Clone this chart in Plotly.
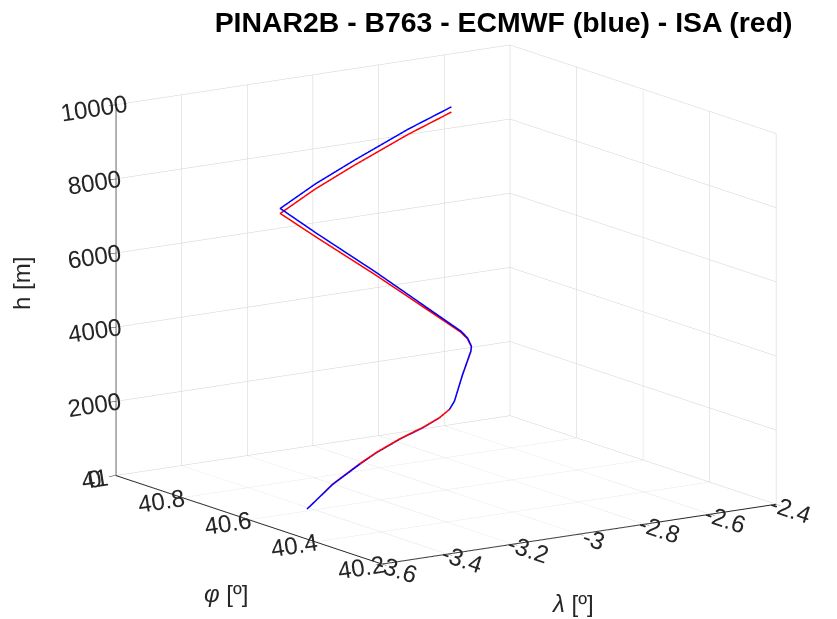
import plotly.graph_objects as go

# Trajectory (longitude λ [º], latitude φ [º], height h [m])
lon = [-3.554, -3.5156, -3.4741, -3.436, -3.374, -3.3058, -3.2524, -3.2138, -3.1862,
       -3.1014, -3.0192, -3.0029, -2.9893, -2.9843, -3.0478, -3.0887, -3.1158,
       -3.0061, -2.8866, -2.7226, -2.5855]
lat = [40.471, 40.4309, 40.3915, 40.3786, 40.3707, 40.3677, 40.3703, 40.3785, 40.3908,
       40.45, 40.5064, 40.5208, 40.5463, 40.5712, 40.7648, 40.9052, 40.9839,
       40.9873, 40.9852, 40.9874, 40.9929]
h_ecmwf = [610, 1350, 1950, 2250, 2550, 2780, 2970, 3120, 3270, 3700, 4050, 4120, 4250,
           4350, 5450, 6150, 6600, 7100, 7600, 8200, 8600]
h_isa = [610, 1360, 1965, 2260, 2560, 2790, 2975, 3120, 3265, 3690, 4030, 4100, 4225,
         4320, 5370, 6040, 6465, 6965, 7465, 8060, 8460]

lon_ticks = [-3.6, -3.4, -3.2, -3.0, -2.8, -2.6, -2.4]
lon_labels = ["-3.6", "-3.4", "-3.2", "-3", "-2.8", "-2.6", "-2.4"]
lat_ticks = [40.2, 40.4, 40.6, 40.8, 41.0]
lat_labels = ["40.2", "40.4", "40.6", "40.8", "41"]
h_ticks = [0, 2000, 4000, 6000, 8000, 10000]
h_labels = ["0", "2000", "4000", "6000", "8000", "10000"]

FONT = "Liberation Sans, Arial, sans-serif"

fig = go.Figure()
fig.add_trace(go.Scatter3d(x=lon, y=lat, z=h_ecmwf, mode="lines",
                           line=dict(color="#0000ff", width=3), name="ECMWF"))
fig.add_trace(go.Scatter3d(x=lon, y=lat, z=h_isa, mode="lines",
                           line=dict(color="#ff0000", width=3), name="ISA"))

ax_common = dict(showbackground=False, gridcolor="#d0d0d0", gridwidth=1,
                 showline=True, linecolor="#262626", linewidth=2,
                 ticks="outside", ticklen=8, tickcolor="#262626",
                 tickfont=dict(family=FONT, size=17, color="#262626"),
                 zeroline=False, showspikes=False)

eye_dir = (-0.545, -0.807, 0.2246)
dist = 1.22
S = 1.588

fig.update_layout(
    width=837, height=619,
    margin=dict(l=0, r=0, t=0, b=0),
    paper_bgcolor="white",
    showlegend=False,
    title=dict(text="<b>PINAR2B - B763 - ECMWF (blue) - ISA (red)</b>",
               x=0.6016, xanchor="center", y=0.964, yanchor="middle",
               font=dict(family=FONT, size=28.4, color="black")),
    scene=dict(
        domain=dict(x=[0.066, 1.0], y=[0.02425, 0.99175]),
        xaxis=dict(range=[-3.6, -2.4], tickvals=lon_ticks, ticktext=lon_labels,
                   title=dict(text=""), **ax_common),
        yaxis=dict(range=[40.2, 41.0], tickvals=lat_ticks, ticktext=lat_labels,
                   title=dict(text=""), **ax_common),
        zaxis=dict(range=[0, 10000], tickvals=h_ticks, ticktext=h_labels,
                   title=dict(text=""), **ax_common),
        aspectmode="manual",
        aspectratio=dict(x=1 * S, y=1 * S, z=0.8 * S),
        camera=dict(projection=dict(type="orthographic"),
                    up=dict(x=0, y=0, z=1), center=dict(x=0, y=0, z=0),
                    eye=dict(x=eye_dir[0] * dist, y=eye_dir[1] * dist, z=eye_dir[2] * dist)),
    ),
    annotations=[
        dict(text="h [m]", x=22 / 837, y=1 - 284 / 619, xref="paper", yref="paper",
             showarrow=False, textangle=-90, xanchor="center", yanchor="middle",
             font=dict(family=FONT, size=24, color="#262626")),
        dict(text="<i>φ</i> [º]", x=226 / 837, y=1 - 593 / 619, xref="paper", yref="paper",
             showarrow=False, xanchor="center", yanchor="middle",
             font=dict(family=FONT, size=24, color="#262626")),
        dict(text="<i>λ</i> [º]", x=572 / 837, y=1 - 603 / 619, xref="paper", yref="paper",
             showarrow=False, xanchor="center", yanchor="middle",
             font=dict(family=FONT, size=24, color="#262626")),
    ],
)

fig.write_html("out.html", config={"displayModeBar": False},
               post_script="document.body.style.margin='0';document.body.style.overflow='hidden';")
